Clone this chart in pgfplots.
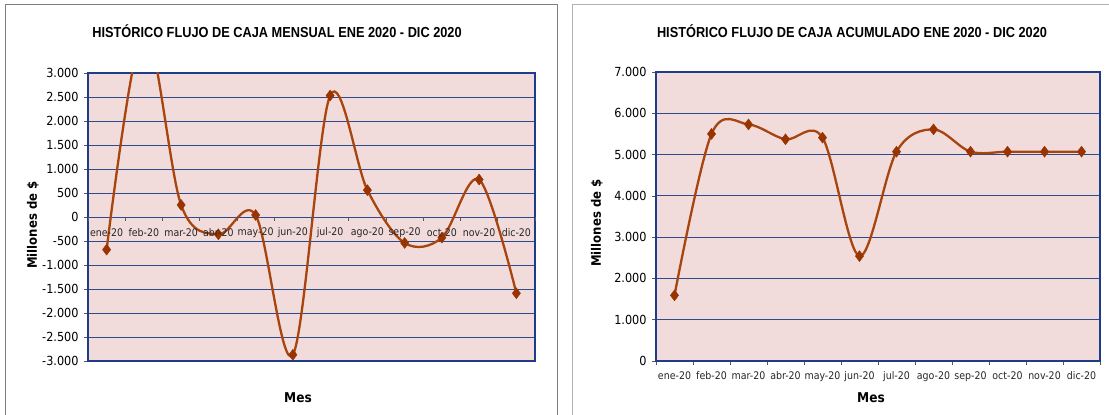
\documentclass[border=0pt]{standalone}
\usepackage{pgfplots}
\pgfplotsset{compat=1.18}
\usepackage{fontspec}
\setmainfont{DejaVu Sans Condensed}
\newfontfamily\titlefont{Liberation Sans}

\definecolor{plotbg}{HTML}{F2DCDB}
\definecolor{gridnavy}{HTML}{2E4A8C}
\definecolor{framenavy}{HTML}{1F3C88}
\definecolor{linebrown}{HTML}{A8440E}
\definecolor{markbrown}{HTML}{993300}
\definecolor{panelgray}{HTML}{808080}

\pgfplotsset{
  flujo/.style={
    scale only axis,
    axis background/.style={fill=plotbg},
    axis line style={framenavy, line width=1.2pt},
    ymajorgrids,
    grid style={gridnavy, line width=0.8pt},
    ytick pos=left,
    tick align=outside,
    major tick length=4pt,
    every tick/.style={gray!70!black, line width=0.6pt},
    yticklabel style={font=\fontsize{12.5}{12.5}\selectfont, xshift=-2pt},
    xmin=-0.5, xmax=11.5,
    clip=true,
  },
  serie/.style={
    linebrown, line width=2.3pt, smooth, tension=0.55,
    mark=diamond*, mark size=5.5pt,
    mark options={fill=markbrown, draw=markbrown, line width=0.4pt},
  },
}

\def\meses{ene-20,feb-20,mar-20,abr-20,may-20,jun-20,jul-20,ago-20,sep-20,oct-20,nov-20,dic-20}

\begin{document}
\begin{tikzpicture}[x=1pt,y=1pt]
\useasboundingbox (0pt,0pt) rectangle (1109pt,415pt);
\clip (0pt,0pt) rectangle (1109pt,415pt);

% panel frames
\draw[panelgray, line width=0.9pt] (5pt,-10pt) -- (5pt,411pt) -- (557pt,411pt) -- (557pt,-10pt);
\draw[gray!60, line width=0.9pt] (572pt,-10pt) -- (572pt,411pt) -- (1120pt,411pt);

% ---------- monthly cash flow ----------
\begin{axis}[flujo,
  at={(88pt,54pt)}, anchor=south west,
  width=447pt, height=288pt,
  ymin=-3000, ymax=3000,
  ytick={-3000,-2500,...,3000},
  yticklabels={-3.000,-2.500,-2.000,-1.500,-1.000,-500,0,500,1.000,1.500,2.000,2.500,3.000},
  xtick=\empty,
  after end axis/.code={
    \foreach \b in {-0.5,0.5,...,11.5}{
      \draw[gray!70!black, line width=0.6pt] (axis cs:\b,0) -- ++(0,-4pt);
    }
    \foreach \m [count=\i from 0] in \meses{
      \node[font=\fontsize{10.5}{10.5}\selectfont, text=black!85] at (axis cs:\i,0) [yshift=-15.5pt] {\m};
    }
  },
]
\addplot[serie] coordinates {
  (0,-680) (1,3910) (2,250) (3,-360) (4,40) (5,-2870)
  (6,2530) (7,560) (8,-540) (9,-430) (10,780) (11,-1590)
};
\end{axis}

\node[font=\titlefont\bfseries\fontsize{14.5}{14.5}\selectfont] at (277pt,384pt) {\scalebox{0.88}[1]{HISTÓRICO FLUJO DE CAJA MENSUAL ENE 2020 - DIC 2020}};
\node[font=\bfseries\fontsize{13}{13}\selectfont, rotate=90] at (33pt,190pt) {Millones de \$};
\node[font=\bfseries\fontsize{13.5}{13.5}\selectfont] at (298pt,17pt) {Mes};

% ---------- cumulative cash flow ----------
\begin{axis}[flujo,
  at={(656pt,54pt)}, anchor=south west,
  width=444pt, height=289pt,
  ymin=0, ymax=7000,
  ytick={0,1000,...,7000},
  yticklabels={0,1.000,2.000,3.000,4.000,5.000,6.000,7.000},
  xtick={0,...,11},
  xticklabels={ene-20,feb-20,mar-20,abr-20,may-20,jun-20,jul-20,ago-20,sep-20,oct-20,nov-20,dic-20},
  major x tick style={draw=none},
  minor xtick={-0.5,0.5,...,11.5},
  minor tick length=4pt,
  xtick pos=bottom,
  xticklabel style={font=\fontsize{10.5}{10.5}\selectfont, text=black!85, yshift=-3pt},
]
\addplot[serie] coordinates {
  (0,1590) (1,5500) (2,5730) (3,5370) (4,5410) (5,2540)
  (6,5070) (7,5610) (8,5070) (9,5070) (10,5070) (11,5070)
};
\end{axis}

\node[font=\titlefont\bfseries\fontsize{14.5}{14.5}\selectfont] at (852pt,384pt) {\scalebox{0.88}[1]{HISTÓRICO FLUJO DE CAJA ACUMULADO ENE 2020 - DIC 2020}};
\node[font=\bfseries\fontsize{13}{13}\selectfont, rotate=90] at (597pt,192pt) {Millones de \$};
\node[font=\bfseries\fontsize{13.5}{13.5}\selectfont] at (871pt,17pt) {Mes};
\end{tikzpicture}
\end{document}
